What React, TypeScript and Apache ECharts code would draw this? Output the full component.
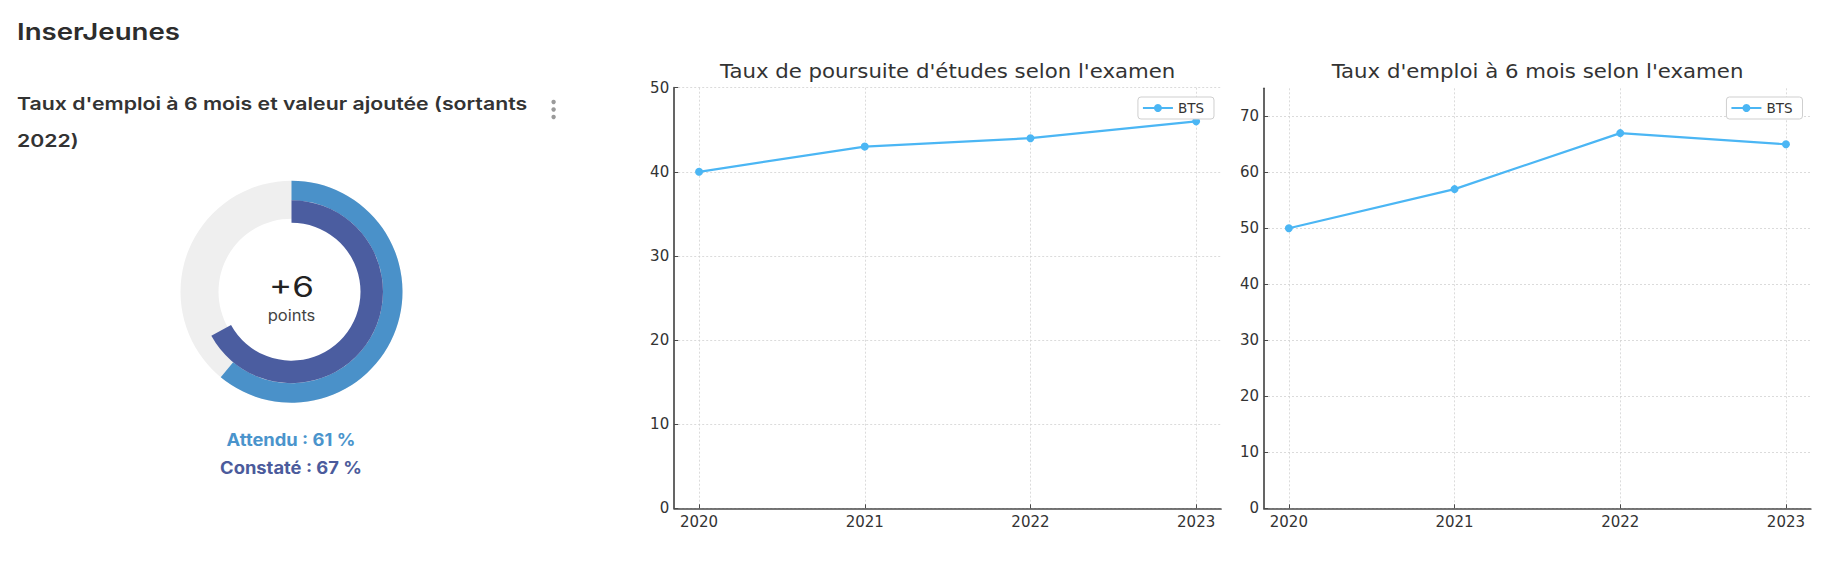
import React, { useEffect, useRef } from "react";
import * as echarts from "echarts";

const years = [2020, 2021, 2022, 2023];
const poursuiteBTS = [40, 43, 44, 46];
const emploiBTS = [50, 57, 67, 65];
const yTicksPoursuite = [0, 10, 20, 30, 40, 50];
const yTicksEmploi = [0, 10, 20, 30, 40, 50, 60, 70];
const attendu = 61;
const constate = 67;
const pointsDiff = constate - attendu;

const LINE_COLOR = "#4bb6f4";
const AXIS_COLOR = "#4a4a4a";
const LIGHT_BLUE = "#4a91c9";
const DARK_BLUE = "#4b5da0";
const GREY = "#efefef";
const DJV = "DejaVu Sans";

function xAxisCfg(gridIndex: number) {
  return {
    type: "value",
    gridIndex,
    min: years[0] - 0.15,
    max: years[years.length - 1] + 0.15,
    axisLine: { show: true, onZero: false, lineStyle: { color: AXIS_COLOR, width: 1.7 } },
    axisTick: { show: true, inside: true, length: 4, customValues: years, lineStyle: { color: AXIS_COLOR } },
    axisLabel: {
      customValues: years,
      margin: 6,
      fontFamily: DJV,
      fontSize: 15,
      color: "#333",
      formatter: (v: number) => String(v),
    },
    splitLine: { show: true, lineStyle: { color: "#d2d2d2", width: 0.8, type: [2, 2] } },
  };
}

function yAxisCfg(gridIndex: number, max: number, ticks: number[]) {
  return {
    type: "value",
    gridIndex,
    min: 0,
    max,
    axisLine: { show: true, onZero: false, lineStyle: { color: AXIS_COLOR, width: 1.7 } },
    axisTick: { show: true, inside: true, length: 4, customValues: ticks, lineStyle: { color: AXIS_COLOR } },
    axisLabel: {
      customValues: ticks,
      margin: 5,
      fontFamily: DJV,
      fontSize: 15,
      color: "#333",
    },
    splitLine: { show: true, lineStyle: { color: "#d2d2d2", width: 0.8, type: [2, 2] } },
  };
}

function legendCfg(right: number) {
  return {
    data: ["BTS"],
    right,
    top: 97,
    orient: "vertical",
    itemWidth: 30,
    itemHeight: 10,
    backgroundColor: "#fff",
    borderColor: "#cfcfcf",
    borderWidth: 1,
    borderRadius: 3,
    padding: [4, 10, 4, 4],
    textStyle: { fontFamily: DJV, fontSize: 13.5, color: "#333" },
    selectedMode: false,
  };
}

function txt(
  text: string,
  x: number,
  y: number,
  font: string,
  fill: string,
  align: string,
  scaleX: number
) {
  return {
    type: "text",
    x,
    y,
    scaleX,
    style: { text, font, fill, align, verticalAlign: "middle" },
  };
}

export default function App() {
  const ref = useRef<HTMLDivElement>(null);

  useEffect(() => {
    if (!ref.current) return;
    const chart = echarts.init(ref.current, undefined, { renderer: "svg" });

    const lineSeries = (data: number[], idx: number) => ({
      type: "line",
      name: "BTS",
      xAxisIndex: idx,
      yAxisIndex: idx,
      data: years.map((y, i) => [y, data[i]]),
      symbol: "circle",
      symbolSize: 8,
      lineStyle: { color: LINE_COLOR, width: 2.2 },
      itemStyle: { color: LINE_COLOR },
      silent: true,
    });

    const center = [291.5, 291.7];

    chart.setOption({
      animation: false,
      backgroundColor: "#fff",
      grid: [
        { left: 674.2, top: 87.7, width: 546.8, height: 420.6 },
        { left: 1264, top: 88.3, width: 546.8, height: 420 },
      ],
      xAxis: [xAxisCfg(0), xAxisCfg(1)],
      yAxis: [yAxisCfg(0, 50, yTicksPoursuite), yAxisCfg(1, 75, yTicksEmploi)],
      legend: [legendCfg(624), legendCfg(35.5)],
      series: [
        lineSeries(poursuiteBTS, 0),
        lineSeries(emploiBTS, 1),
        {
          type: "pie",
          name: "fond",
          center,
          radius: [73, 111],
          silent: true,
          label: { show: false },
          labelLine: { show: false },
          data: [{ value: 100, name: "fond", itemStyle: { color: GREY } }],
          z: 1,
        },
        {
          type: "pie",
          name: "Attendu",
          center,
          radius: [91.5, 111],
          startAngle: 90,
          clockwise: true,
          silent: true,
          label: { show: false },
          labelLine: { show: false },
          data: [
            { value: attendu, name: "Attendu", itemStyle: { color: LIGHT_BLUE } },
            { value: 100 - attendu, name: "reste1", itemStyle: { color: "rgba(0,0,0,0)" } },
          ],
          z: 2,
        },
        {
          type: "pie",
          name: "Constaté",
          center,
          radius: [69, 91.5],
          startAngle: 90,
          clockwise: true,
          silent: true,
          label: { show: false },
          labelLine: { show: false },
          data: [
            { value: constate, name: "Constaté", itemStyle: { color: DARK_BLUE } },
            { value: 100 - constate, name: "reste2", itemStyle: { color: "rgba(0,0,0,0)" } },
          ],
          z: 3,
        },
      ],
      graphic: [
        txt("InserJeunes", 17, 31.5, "600 23px Inter", "#2d2d2d", "left", 1.2),
        txt("Taux d'emploi à 6 mois et valeur ajoutée (sortants", 17, 104, "600 17.5px Inter", "#333", "left", 1.215),
        txt("2022)", 17, 141, "600 17.5px Inter", "#333", "left", 1.215),
        { type: "circle", shape: { cx: 553.6, cy: 102, r: 2.2 }, style: { fill: "#9a9a9a" } },
        { type: "circle", shape: { cx: 553.6, cy: 109.5, r: 2.2 }, style: { fill: "#9a9a9a" } },
        { type: "circle", shape: { cx: 553.6, cy: 117, r: 2.2 }, style: { fill: "#9a9a9a" } },
        txt("+" + pointsDiff, 291.5, 287, "400 28px Inter", "#222", "center", 1.25),
        txt("points", 291.5, 316, "400 15px Inter", "#444", "center", 1.1),
        txt("Attendu : " + attendu + " %", 291, 440, "700 17px Inter", "#4a94cc", "center", 1.08),
        txt("Constaté : " + constate + " %", 291, 468, "700 17px Inter", "#4b5b9c", "center", 1.08),
        txt("Taux de poursuite d'études selon l'examen", 947.6, 71.5, "400 19px 'DejaVu Sans'", "#333", "center", 1.12),
        txt("Taux d'emploi à 6 mois selon l'examen", 1537.5, 71.5, "400 19px 'DejaVu Sans'", "#333", "center", 1.12),
      ],
    });

    return () => chart.dispose();
  }, []);

  return (
    <div
      ref={ref}
      style={{ position: "fixed", left: 0, top: 0, width: 1838, height: 568, background: "#fff" }}
    />
  );
}
